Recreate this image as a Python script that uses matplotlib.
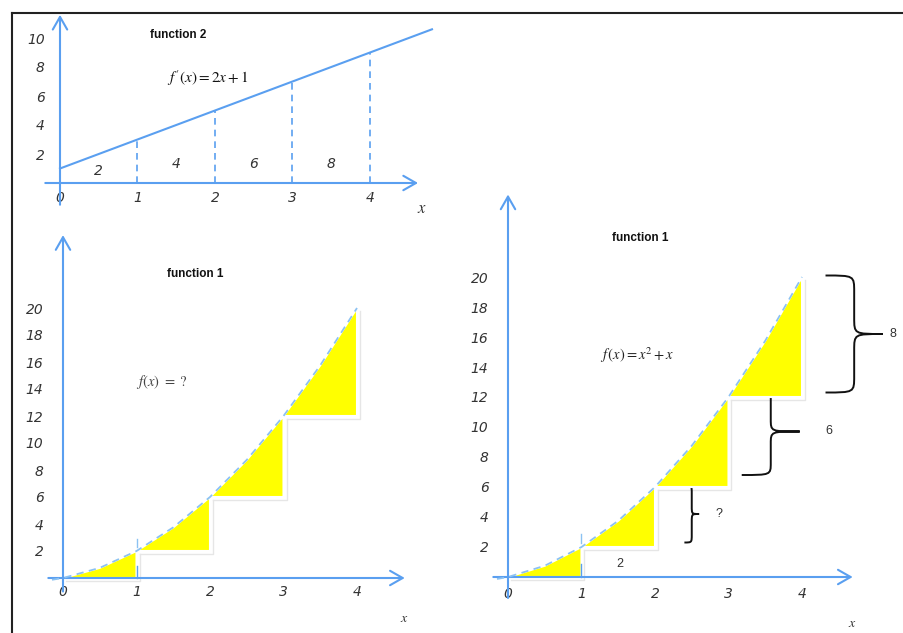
import matplotlib.pyplot as plt
import matplotlib.transforms as mtransforms
from matplotlib.lines import Line2D
from matplotlib.path import Path
from matplotlib.patches import PathPatch

plt.rcParams['mathtext.fontset'] = 'stix'

# ---- data ----
xticks = [0, 1, 2, 3, 4]
xtick_labels = ['0', '1', '2', '3', '4']
yticks_top = [2, 4, 6, 8, 10]
yticks_bottom = [2, 4, 6, 8, 10, 12, 14, 16, 18, 20]

# function 2: f'(x) = 2x + 1
deriv_x = [0, 4.8]
deriv_y = [1.0, 10.6]
deriv_at_ticks = [3, 5, 7, 9]           # heights of dashed verticals at x=1..4
area_labels = ['2', '4', '6', '8']

# function 1: f(x) = x^2 + x
curve_x = [-0.15, 0, 0.5, 1, 1.5, 2, 2.5, 3, 3.5, 4]
curve_y = [-0.13, 0, 0.75, 2, 3.75, 6, 8.75, 12, 15.75, 20]

# braces in the right panel
brace_lo = [2.3, 6.8, 12.3]
brace_hi = [6.1, 12.6, 20.1]
brace_end = [2.40, 3.18, 4.32]
brace_tip = [2.60, 3.97, 5.10]
brace_labels = ['?', '6', '8']
brace_label_gap = [0.27, 0.40, 0.14]

W, H = 904, 633
blue = '#5a9ff0'
light_blue = '#8cc2f2'
yellow = '#ffff00'
dark = '#333333'

fig = plt.figure(figsize=(W / 100, H / 100), dpi=100)

# thin frame (top and left only)
fig.add_artist(Line2D([12 / W, 1], [1 - 13 / H, 1 - 13 / H], color='#222222', lw=1.5))
fig.add_artist(Line2D([12 / W, 12 / W], [1 - 13 / H, 0], color='#222222', lw=1.5))


def place_axes(origin, scale, xlim, ylim):
    ox, oy = origin
    sx, sy = scale
    left = (ox + sx * xlim[0]) / W
    width = sx * (xlim[1] - xlim[0]) / W
    bottom = 1 - (oy - sy * ylim[0]) / H
    height = sy * (ylim[1] - ylim[0]) / H
    ax = fig.add_axes([left, bottom, width, height])
    ax.set_xlim(xlim)
    ax.set_ylim(ylim)
    ax.patch.set_visible(False)
    for s in ax.spines.values():
        s.set_visible(False)
    ax.spines['bottom'].set_position(('data', 0))
    ax.spines['left'].set_position(('data', 0))
    return ax


def draw_axes_arrows(ax, xr, yr):
    props = dict(arrowstyle='->, head_length=0.7, head_width=0.4', color=blue,
                 lw=1.5, shrinkA=0, shrinkB=0, mutation_scale=13)
    ax.annotate('', xy=(xr[1], 0), xytext=(xr[0], 0), arrowprops=props)
    ax.annotate('', xy=(0, yr[1]), xytext=(0, yr[0]), arrowprops=props)


def set_ticks(ax, yticks, xpad, ypad):
    ax.set_xticks(xticks)
    ax.set_xticklabels(xtick_labels, fontstyle='italic', fontsize=10, color=dark)
    ax.set_yticks(yticks)
    ax.set_yticklabels([str(v) for v in yticks], fontstyle='italic', fontsize=10, color=dark)
    ax.tick_params(axis='x', length=0, pad=xpad)
    ax.tick_params(axis='y', length=0, pad=ypad)


def draw_steps(ax):
    ax.plot(curve_x, curve_y, color='white', lw=3, zorder=2)
    shadow = mtransforms.offset_copy(ax.transData, fig=fig, x=3, y=-3, units='dots')
    for k in range(4):
        i0 = curve_x.index(k)
        xs = curve_x[i0:i0 + 3]
        ys = curve_y[i0:i0 + 3]
        ax.plot([k, k + 1, k + 1], [ys[0], ys[0], ys[-1]], color='#e6e6e6', lw=1,
                transform=shadow, zorder=1)
        ax.fill(xs + [k + 1], ys + [ys[0]], facecolor=yellow, edgecolor='white',
                lw=1.5, zorder=2)
    ax.plot(curve_x, curve_y, color=light_blue, lw=1.3, ls=(0, (4, 3)), zorder=3)
    ax.plot([1, 1], [0, 0.9], color=blue, lw=1, zorder=3)
    ax.plot([1, 1], [2.3, 2.9], color=light_blue, lw=1, zorder=3)


# ---- top panel: function 2 ----
ax1 = place_axes((60, 183), (77.5, 14.5), (-0.7, 4.95), (-2.3, 12.0))
draw_axes_arrows(ax1, (-0.19, 4.62), (-1.5, 11.6))
set_ticks(ax1, yticks_top, xpad=6, ypad=11)
ax1.plot(deriv_x, deriv_y, color=blue, lw=1.5)
for i, h in enumerate(deriv_at_ticks):
    ax1.plot([i + 1, i + 1], [0, h], color=blue, lw=1.2, ls=(0, (4, 3)))
for i, lab in enumerate(area_labels):
    ax1.text(i + 0.5, 0.8 if i == 0 else 1.3, lab, ha='center', va='center',
             fontstyle='italic', fontsize=10, color=dark)
ax1.text(1.52, 10.2, 'function 2', ha='center', va='center', fontsize=8.5,
         fontweight='bold', family='Liberation Sans', color='#111111')
ax1.text(1.9, 7.2, r"$f\,'(x) = 2x + 1$", ha='center', va='center', fontsize=11,
         color='#111111')
ax1.text(4.67, -1.72, r'$x$', ha='center', va='center', fontsize=12, color=dark)

# ---- bottom-left panel: function 1, unknown ----
ax2 = place_axes((63, 578), (73.5, 13.5), (-0.7, 4.9), (-3.5, 26.0))
draw_axes_arrows(ax2, (-0.2, 4.65), (-1.0, 25.4))
set_ticks(ax2, yticks_bottom, xpad=5, ypad=14)
draw_steps(ax2)
ax2.text(1.8, 22.5, 'function 1', ha='center', va='center', fontsize=8.5,
         fontweight='bold', family='Liberation Sans', color='#111111')
ax2.text(1.35, 14.5, r'$f(x)\ =\ ?$', ha='center', va='center', fontsize=10.5,
         color='#444444')
ax2.text(4.64, -2.96, r'$x$', ha='center', va='center', fontsize=10, color=dark)

# ---- bottom-right panel: function 1, with braces ----
ax3 = place_axes((508, 577), (73.5, 15.0), (-0.5, 5.3), (-3.6, 26.0))
draw_axes_arrows(ax3, (-0.2, 4.69), (-1.4, 25.5))
set_ticks(ax3, yticks_bottom, xpad=7, ypad=14)
draw_steps(ax3)
ax3.text(1.8, 22.6, 'function 1', ha='center', va='center', fontsize=8.5,
         fontweight='bold', family='Liberation Sans', color='#111111')
ax3.text(1.76, 14.8, r'$f\,(x) = x^{2} + x$', ha='center', va='center', fontsize=10.5,
         color='#222222')
ax3.text(4.69, -3.07, r'$x$', ha='center', va='center', fontsize=10, color=dark)
ax3.text(1.52, 0.87, '2', ha='center', va='center', fontsize=9,
         family='Liberation Sans', color=dark)

for lo, hi, xe, xt, lab, gap in zip(brace_lo, brace_hi, brace_end, brace_tip,
                                    brace_labels, brace_label_gap):
    xs = (xe + xt) / 2
    ym = (lo + hi) / 2
    d = 0.14 * (hi - lo)
    verts = [(xe, hi), (xs, hi), (xs, hi), (xs, hi - d),
             (xs, ym + d),
             (xs, ym), (xs, ym), (xt, ym),
             (xs, ym), (xs, ym), (xs, ym - d),
             (xs, lo + d),
             (xs, lo), (xs, lo), (xe, lo)]
    codes = [Path.MOVETO, Path.CURVE4, Path.CURVE4, Path.CURVE4,
             Path.LINETO,
             Path.CURVE4, Path.CURVE4, Path.CURVE4,
             Path.CURVE4, Path.CURVE4, Path.CURVE4,
             Path.LINETO,
             Path.CURVE4, Path.CURVE4, Path.CURVE4]
    ax3.add_patch(PathPatch(Path(verts, codes), facecolor='none', edgecolor='#111111',
                            lw=1.4, clip_on=False))
    ax3.text(xt + gap, ym, lab, ha='center', va='center', fontsize=9,
             family='Liberation Sans', color=dark, clip_on=False)

plt.savefig('out.png', dpi=100)
